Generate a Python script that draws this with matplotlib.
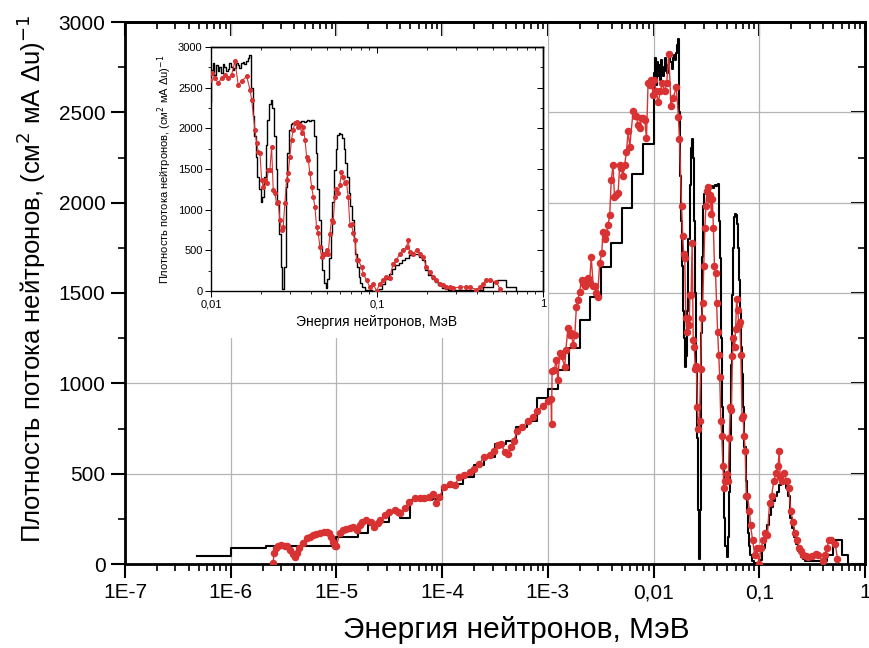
import numpy as np
import matplotlib.pyplot as plt
from matplotlib.ticker import MultipleLocator, LogLocator, NullFormatter
from matplotlib.patches import Rectangle

plt.rcParams['font.family'] = ['Liberation Sans', 'DejaVu Sans']

# расчёт (чёрная ступенчатая кривая): левые края бинов lg(E, МэВ) и значения
calc_lg = [-6.32, -6.0, -5.67, -5.0, -4.9, -4.8, -4.7, -4.6, -4.5, -4.4, -4.3, -4.2, -4.1,
           -4.0, -3.9, -3.8, -3.7, -3.6, -3.5, -3.4, -3.3, -3.2, -3.1, -3.0, -2.9, -2.8,
           -2.7, -2.6, -2.5, -2.4, -2.3, -2.2, -2.1,
           -2.00, -1.99, -1.98, -1.97, -1.96, -1.95, -1.94, -1.93, -1.92, -1.91, -1.90,
           -1.89, -1.88, -1.87, -1.86, -1.85, -1.84, -1.83, -1.82, -1.81, -1.80, -1.79,
           -1.78, -1.77, -1.76, -1.75, -1.74, -1.73, -1.72, -1.71, -1.70, -1.69, -1.68,
           -1.67, -1.66, -1.65, -1.64, -1.63, -1.62, -1.61, -1.60, -1.59, -1.58, -1.57,
           -1.56, -1.55, -1.54, -1.53, -1.52, -1.51, -1.50, -1.49, -1.48, -1.47, -1.46,
           -1.45, -1.44, -1.43, -1.42, -1.41, -1.40, -1.39, -1.38, -1.37, -1.36, -1.35,
           -1.34, -1.33, -1.32, -1.31, -1.30, -1.29, -1.28, -1.27, -1.26, -1.25, -1.24,
           -1.23, -1.22, -1.21, -1.20, -1.19, -1.18, -1.17, -1.16, -1.15, -1.14, -1.13,
           -1.12, -1.11, -1.10, -1.09, -1.07, -1.05, -1.03, -1.01, -0.99, -0.97, -0.95,
           -0.93, -0.91, -0.89, -0.87, -0.85, -0.83, -0.81, -0.79, -0.77, -0.75, -0.73,
           -0.71, -0.69, -0.67, -0.65, -0.63, -0.61, -0.59, -0.57, -0.36, -0.30, -0.28,
           -0.22, -0.16]
calc_val = [44, 90, 101, 150, 152, 170, 215, 234, 289, 253, 354, 354, 360,
            427, 445, 482, 546, 592, 665, 683, 757, 793, 921, 967, 1074, 1194,
            1351, 1480, 1646, 1776, 1970, 2159, 2326,
            2720, 2800, 2650, 2780, 2700, 2760, 2680, 2790, 2750, 2700, 2730,
            2800, 2760, 2720, 2740, 2800, 2780, 2740, 2800, 2820, 2790, 2830,
            2870, 2906, 2500, 2150, 1900, 1650, 1400, 1250, 1090, 1150, 1400,
            1800, 2100, 2300, 2350, 2250, 1900, 1500, 1100, 700, 300, 30,
            300, 1280, 1700, 1980, 2050, 2063, 2070, 2080, 2075, 2080, 2090,
            2085, 2080, 2090, 2100, 2095, 2100, 2104, 1900, 1693, 1250, 871,
            550, 255, 100, 40, 150, 400, 700, 1100, 1488, 1750, 1919,
            1940, 1930, 1880, 1750, 1570, 1400, 1200, 1050, 871, 650, 460,
            300, 173, 100, 49, 15, 8, 5, 5, 20, 90, 150,
            214, 270, 316, 350, 378, 400, 440, 460, 460, 420, 378,
            255, 200, 152, 110, 70, 40, 25, 16, 49, 111, 131,
            49, 0]

# эксперимент (красные точки)
meas_lg = [-5.60, -5.59, -5.57, -5.55, -5.52, -5.49, -5.47, -5.44, -5.41, -5.39, -5.37,
           -5.35, -5.32, -5.28, -5.25, -5.22, -5.19, -5.16, -5.12, -5.09, -5.07, -5.05,
           -5.03, -5.016, -5.00, -4.97, -4.94, -4.905, -4.87, -4.84, -4.81, -4.78, -4.76,
           -4.72, -4.67, -4.64, -4.61, -4.59, -4.54, -4.50, -4.45, -4.42, -4.40, -4.355,
           -4.31, -4.26, -4.21, -4.17, -4.12, -4.09, -4.057, -4.025, -3.98, -3.93, -3.88,
           -3.84, -3.79, -3.74, -3.695, -3.65, -3.60, -3.55, -3.51, -3.475, -3.44, -3.41,
           -3.38, -3.35, -3.32, -3.29, -3.24, -3.19, -3.145, -3.10, -3.05, -3.00, -2.97,
           -2.965, -2.96, -2.94, -2.92, -2.905, -2.889, -2.87, -2.84, -2.83, -2.81, -2.79,
           -2.78, -2.76, -2.745, -2.73, -2.716, -2.70, -2.68, -2.665, -2.65, -2.635, -2.62,
           -2.605, -2.59, -2.57, -2.555, -2.54, -2.53, -2.51, -2.49, -2.479, -2.463, -2.447,
           -2.43, -2.415, -2.40, -2.383, -2.37, -2.352, -2.336, -2.32, -2.305, -2.29, -2.273,
           -2.257, -2.24, -2.225, -2.194, -2.178, -2.163, -2.147, -2.131, -2.115, -2.10,
           -2.083, -2.067, -2.052, -2.036, -2.02, -2.005,
           -1.996, -1.976, -1.956, -1.936, -1.916, -1.896, -1.876, -1.856, -1.836, -1.815,
           -1.785, -1.765, -1.755, -1.735, -1.725, -1.715, -1.705, -1.695, -1.685, -1.675,
           -1.665, -1.655, -1.645, -1.635, -1.625, -1.615, -1.605, -1.595, -1.585, -1.575,
           -1.565, -1.555, -1.545, -1.535, -1.525, -1.515, -1.505, -1.495, -1.484, -1.474,
           -1.464, -1.454, -1.444, -1.434, -1.424, -1.414, -1.404, -1.394, -1.384, -1.374,
           -1.364, -1.354, -1.344, -1.334, -1.324, -1.314, -1.304, -1.294, -1.284, -1.274,
           -1.264, -1.254, -1.244, -1.234, -1.224, -1.214, -1.204, -1.194, -1.184, -1.174,
           -1.163, -1.153, -1.143, -1.133, -1.123, -1.113, -1.093, -1.083, -1.063, -1.043,
           -1.023, -1.003, -0.983, -0.963, -0.943, -0.923, -0.903, -0.883, -0.863, -0.843,
           -0.822, -0.812, -0.802, -0.782, -0.762, -0.742, -0.722, -0.702, -0.682, -0.662,
           -0.642, -0.622, -0.602, -0.582, -0.562, -0.542, -0.502, -0.461, -0.441, -0.401,
           -0.381, -0.361, -0.341, -0.321, -0.281, -0.261]
meas_val = [4, 59, 87, 100, 105, 102, 100, 80, 55, 40, 60,
            87, 115, 142, 152, 160, 168, 173, 176, 179, 172, 151,
            120, 100, 97, 170, 189, 192, 198, 207, 189, 215, 234,
            244, 234, 207, 225, 244, 271, 289, 299, 290, 280, 308,
            344, 363, 363, 365, 372, 390, 335, 372, 427, 445, 436,
            482, 491, 509, 528, 555, 592, 601, 628, 656, 665, 619,
            610, 647, 683, 738, 757, 793, 812, 848, 876, 903, 912,
            775, 1068, 1074, 1129, 1018, 1166, 1150, 1093, 1185, 1305, 1269,
            1280, 1212, 1269, 1425, 1462, 1508, 1572, 1555, 1536, 1572, 1582,
            1555, 1701, 1536, 1536, 1500, 1480, 1665, 1720, 1840, 1800, 1830,
            1877, 1932, 2126, 2209, 2034, 2043, 2052, 2209, 2190, 2145, 2209,
            2283, 2394, 2310, 2505, 2477, 2477, 2431, 2412, 2468, 2468,
            2459, 2357, 2661, 2652, 2679, 2596,
            2680, 2618, 2556, 2618, 2660, 2618, 2660, 2824, 2536, 2580,
            2639, 2474, 2351, 1981, 1817, 1714, 1693, 1364, 1282, 1364,
            1323, 1488, 1488, 1776, 1241, 1200, 1077, 1097, 871, 748,
            789, 1077, 1364, 1447, 1652, 1858, 1981, 2063, 2084, 2022,
            2042, 1940, 2022, 1858, 1652, 1611, 1447, 1282, 1159, 1036,
            789, 707, 543, 419, 460, 460, 500, 460, 700, 871,
            850, 1150, 1250, 1200, 1300, 1467, 1405, 1323, 1340, 1159,
            810, 820, 707, 625, 378, 378, 296, 214, 131, 49,
            90, 0, 90, 131, 173, 160, 337, 378, 460, 501,
            543, 625, 480, 460, 501, 460, 419, 296, 234, 173,
            131, 90, 70, 50, 45, 40, 45, 55, 50, 16,
            50, 90, 131, 131, 111, 30]

x_ticks = [1e-7, 1e-6, 1e-5, 1e-4, 1e-3, 1e-2, 1e-1, 1]
x_labels = ['1E-7', '1E-6', '1E-5', '1E-4', '1E-3', '0,01', '0,1', '1']
in_ticks = [0.01, 0.1, 1]
in_labels = ['0,01', '0,1', '1']

calc_e = 10.0 ** np.array(calc_lg)
meas_e = 10.0 ** np.array(meas_lg)
red = '#d83232'

W, H = 870, 648
fig = plt.figure(figsize=(W / 100, H / 100), dpi=100)
ax = fig.add_axes([125 / W, 1 - 564 / H, 740 / W, 542 / H])


def style_axes(a, lw, maj, mnr, fs, pad):
    a.set_xscale('log')
    a.yaxis.set_major_locator(MultipleLocator(500))
    a.yaxis.set_minor_locator(MultipleLocator(250))
    a.xaxis.set_minor_locator(LogLocator(base=10, subs=np.arange(2, 10)))
    a.xaxis.set_minor_formatter(NullFormatter())
    for s in a.spines.values():
        s.set_linewidth(lw)
    a.tick_params(which='major', direction='out', length=maj, width=lw * 0.75,
                  labelsize=fs, pad=pad)
    a.tick_params(which='minor', direction='out', length=mnr, width=lw * 0.6)
    # зеркальные оси сверху и справа — засечки внутрь
    top = a.secondary_xaxis('top')
    top.xaxis.set_minor_locator(LogLocator(base=10, subs=np.arange(2, 10)))
    top.xaxis.set_major_formatter(NullFormatter())
    top.xaxis.set_minor_formatter(NullFormatter())
    top.tick_params(which='major', direction='in', length=maj, width=lw * 0.75)
    top.tick_params(which='minor', direction='in', length=mnr, width=lw * 0.6)
    right = a.secondary_yaxis('right')
    right.yaxis.set_major_locator(MultipleLocator(500))
    right.yaxis.set_minor_locator(MultipleLocator(250))
    right.yaxis.set_major_formatter(NullFormatter())
    right.tick_params(which='major', direction='in', length=maj, width=lw * 0.75)
    right.tick_params(which='minor', direction='in', length=mnr, width=lw * 0.6)
    for s in list(top.spines.values()) + list(right.spines.values()):
        s.set_linewidth(lw)
    return top, right


style_axes(ax, 2.0, 10, 5, 15, 4)
ax.set_xlim(1e-7, 1)
ax.set_ylim(0, 3000)
ax.set_xticks(x_ticks, x_labels)
ax.grid(True, which='major', color='#b4b4b4', lw=0.9)
ax.set_axisbelow(True)

ax.plot(calc_e, calc_val, color='black', lw=1.5, drawstyle='steps-post', zorder=3)
ax.plot(meas_e, meas_val, color=red, lw=1.0, marker='o', ms=4.4, mec=red, mfc=red, zorder=4)

ax.set_xlabel('Энергия нейтронов, МэВ', fontsize=21.5, va='center')
ax.set_ylabel('Плотность потока нейтронов, (см$^2$ мА Δu)$^{-1}$', fontsize=18.5,
              va='center')
ax.xaxis.set_label_coords((516 - 125) / 740, -(630 - 564) / 542)
ax.yaxis.set_label_coords(-(125 - 31) / 740, (564 - 279) / 542)

# белая подложка под вставкой
fig.patches.append(Rectangle((127 / W, 1 - 338 / H), (548 - 127) / W, (338 - 36) / H,
                             transform=fig.transFigure, facecolor='white',
                             edgecolor='none', zorder=2))

axin = fig.add_axes([211 / W, 1 - 291 / H, 332 / W, 244 / H], zorder=3)
style_axes(axin, 1.0, 4, 2, 8, 2)
axin.set_xlim(0.01, 1)
axin.set_ylim(0, 3000)
axin.set_xticks(in_ticks, in_labels)
axin.plot(calc_e, calc_val, color='black', lw=1.0, drawstyle='steps-post', zorder=3)
axin.plot(meas_e, meas_val, color=red, lw=0.8, marker='o', ms=2.6, mec=red, mfc=red, zorder=4)
axin.set_xlabel('Энергия нейтронов, МэВ', fontsize=10, labelpad=4)
axin.set_ylabel('Плотность потока нейтронов, (см$^2$ мА Δu)$^{-1}$', fontsize=8, labelpad=3)

fig.savefig('out.png', dpi=100)
